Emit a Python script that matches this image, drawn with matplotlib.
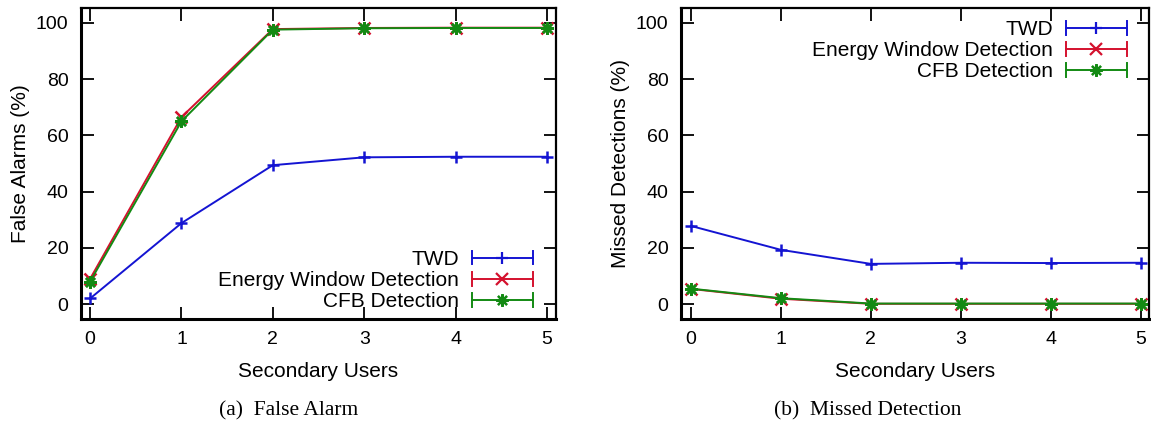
import numpy as np
import matplotlib.pyplot as plt
from matplotlib.lines import Line2D
from matplotlib.legend_handler import HandlerBase

users = [0, 1, 2, 3, 4, 5]

# (a) false alarms (%)
fa_twd = [2.0, 28.8, 49.4, 52.2, 52.4, 52.4]
fa_energy = [9.0, 66.5, 97.8, 98.2, 98.3, 98.3]
fa_cfb = [8.0, 65.0, 97.6, 98.1, 98.2, 98.2]

# (b) missed detections (%)
md_twd = [27.8, 19.3, 14.3, 14.7, 14.6, 14.7]
md_energy = [5.4, 1.9, 0.1, 0.1, 0.1, 0.1]
md_cfb = [5.5, 2.1, 0.2, 0.2, 0.2, 0.2]

series_names = ['TWD', 'Energy Window Detection', 'CFB Detection']
captions = ['(a)  False Alarm', '(b)  Missed Detection']
ylabels = ['False Alarms (%)', 'Missed Detections (%)']

colors = ['#1414d2', '#d4112e', '#138a13']
markers = ['+', 'x', (8, 2, 0)]

plt.rcParams['font.family'] = ['Liberation Sans', 'DejaVu Sans']

W, H = 1151, 424


class GnuplotKey(HandlerBase):
    # horizontal line with end caps and the point in the middle, like gnuplot
    def create_artists(self, legend, orig_handle, xdescent, ydescent,
                       width, height, fontsize, trans):
        c = orig_handle.get_color()
        y = height / 2 - ydescent
        x0 = -xdescent
        x1 = x0 + width
        cap = 5
        arts = [
            Line2D([x0, x1], [y, y], color=c, lw=1.4),
            Line2D([x0, x0], [y - cap, y + cap], color=c, lw=1.4),
            Line2D([x1, x1], [y - cap, y + cap], color=c, lw=1.4),
            Line2D([(x0 + x1) / 2], [y], marker=orig_handle.get_marker(),
                   color=c, ms=9, mew=1.6, ls='none'),
        ]
        for a in arts:
            a.set_transform(trans)
        return arts


fig = plt.figure(figsize=(W / 100, H / 100), dpi=100)
ax1 = fig.add_axes([81 / W, 1 - 319 / H, 475 / W, 311 / H])
ax2 = fig.add_axes([681 / W, 1 - 319 / H, 468 / W, 311 / H])

panels = [
    (ax1, [fa_twd, fa_energy, fa_cfb], 'lower right', 289),
    (ax2, [md_twd, md_energy, md_cfb], 'upper right', 868),
]

for i, (ax, data, loc, cap_x) in enumerate(panels):
    handles = []
    for vals, name, col, mk in zip(data, series_names, colors, markers):
        ln, = ax.plot(users, vals, color=col, lw=1.4, marker=mk, ms=9,
                      mew=1.8, label=name)
        handles.append(ln)

    if i == 0:
        ax.set_xlim(-0.1, 5.1)
    else:
        ax.set_xlim(-0.11, 5.09)
    ax.set_ylim(-5.3, 105.3)
    ax.set_xticks(users)
    ax.set_yticks([0, 20, 40, 60, 80, 100])
    ax.tick_params(direction='in', length=9, width=1.3, labelsize=14,
                   top=True, right=True, pad=9)
    for s in ax.spines.values():
        s.set_linewidth(1.6)
    ax.spines['left'].set_linewidth(2.2)
    ax.spines['bottom'].set_linewidth(2.2)

    ax.set_xlabel('Secondary Users', fontsize=15, labelpad=10)
    ax.set_ylabel(ylabels[i], fontsize=15, labelpad=4)

    bw = ax.get_position().width * W
    if loc == 'lower right':
        anchor = (1 - 23 / bw, 8 / 311)
    else:
        anchor = (1 - 22 / bw, 1 - 12 / 311)
    leg = ax.legend(handles=handles, loc=loc, bbox_to_anchor=anchor,
                    frameon=False, markerfirst=False, fontsize=15,
                    handlelength=2.95, handletextpad=0.6, labelspacing=0.1,
                    borderaxespad=0, borderpad=0,
                    handler_map={Line2D: GnuplotKey()})
    for t in leg.get_texts():
        t.set_ha('right')
    leg._legend_box.align = 'right'

    fig.text(cap_x / W, 1 - 411 / H, captions[i], ha='center', va='center',
             fontsize=15.5, family=['Liberation Serif', 'DejaVu Serif'])

fig.savefig('out.png', dpi=100)
